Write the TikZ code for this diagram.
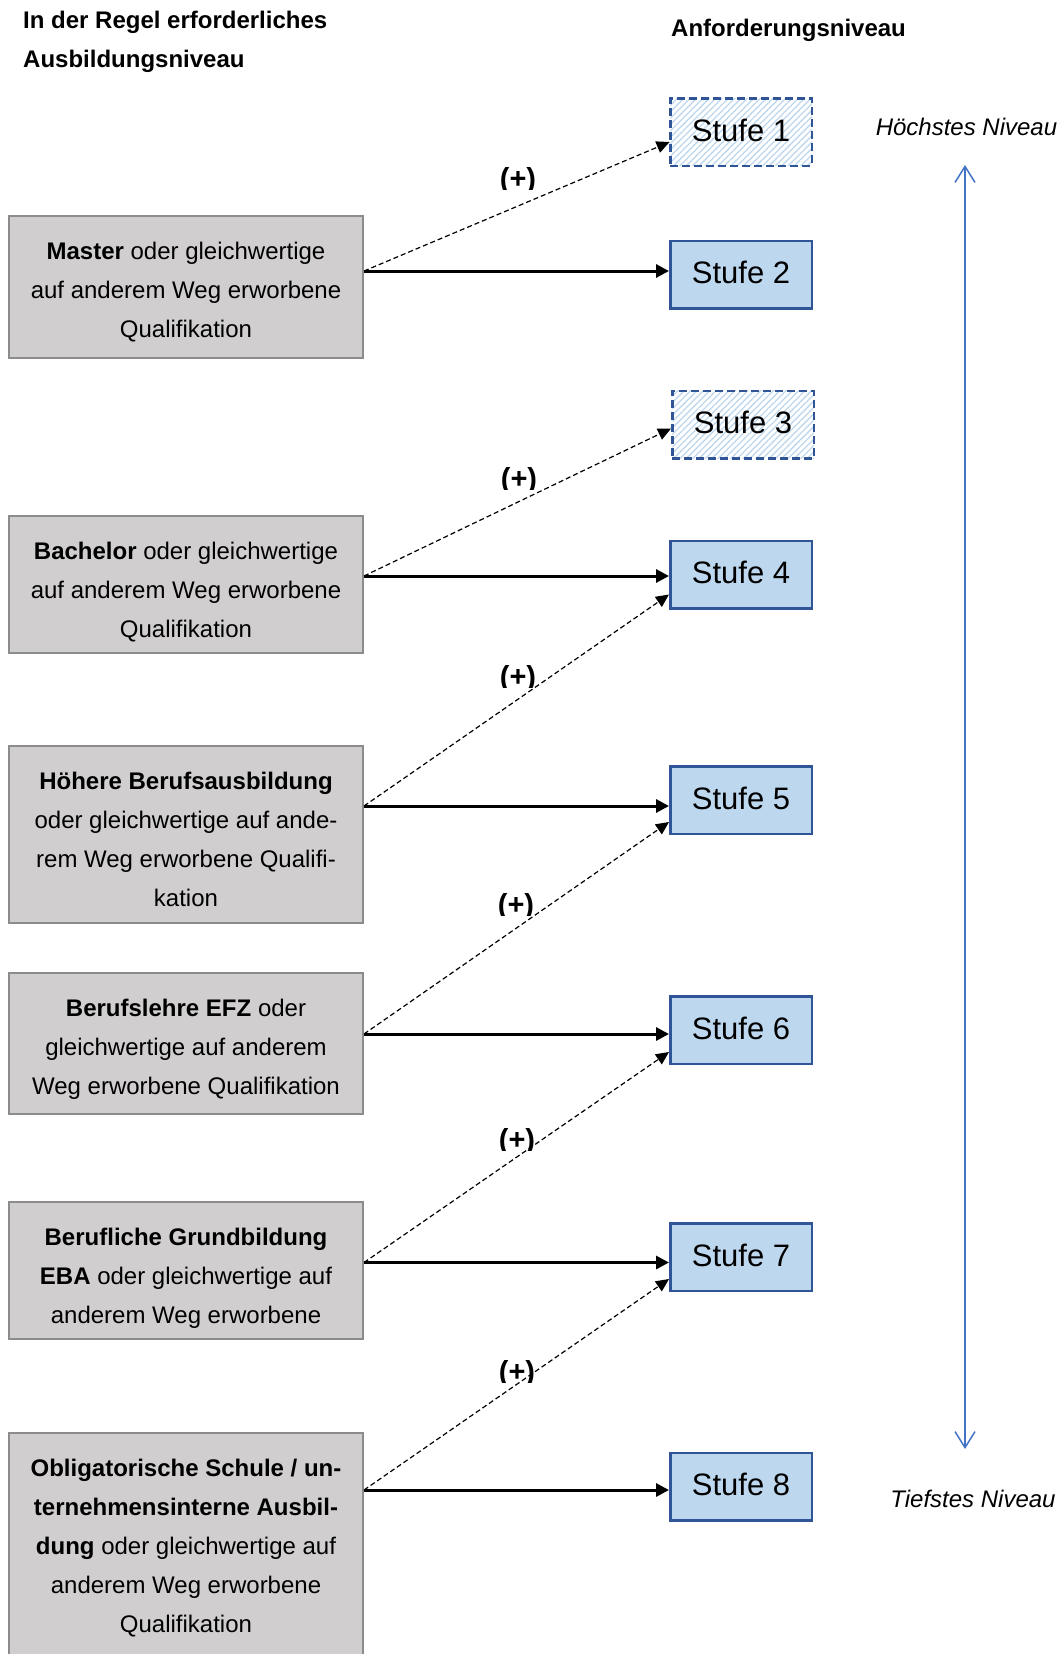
\documentclass[tikz,border=0pt]{standalone}
\usepackage{fontspec}
\setmainfont{Liberation Sans}
\usetikzlibrary{arrows.meta,patterns.meta}

\definecolor{gradefill}{HTML}{D0CECE}
\definecolor{gradeedge}{HTML}{8C8C8C}
\definecolor{levelfill}{HTML}{BDD7EE}
\definecolor{leveledge}{HTML}{2F5597}
\definecolor{rankline}{HTML}{4472C4}

\begin{document}
\begin{tikzpicture}[x=1pt,y=-1pt,
  grade/.style={draw=gradeedge,fill=gradefill,line width=2pt,minimum width=354pt,anchor=north,inner sep=0pt},
  gradetext/.style={anchor=north,align=center,inner sep=0pt,font=\fontsize{24}{39}\selectfont},
  level/.style={draw=leveledge,line width=2.5pt,minimum width=141.5pt,minimum height=67.5pt,inner sep=0pt,text height=23pt,text depth=5pt,font=\fontsize{31}{37}\selectfont},
  firm/.style={level,fill=levelfill},
  hatched/.style={level,dash pattern=on 8pt off 4pt,pattern={Lines[angle=45,distance=4.5pt,line width=1.3pt]},pattern color=levelfill},
  must/.style={line width=3pt,-{Triangle[length=13pt,width=13pt]}},
  may/.style={line width=1.2pt,dash pattern=on 5pt off 3pt,-{Triangle[length=13pt,width=12pt]}},
  gain/.style={anchor=base,inner sep=0pt,font=\bfseries\fontsize{29}{35}\selectfont},
  ends/.style={anchor=base,inner sep=0pt,font=\itshape\fontsize{24}{29}\selectfont},
  ranking/.style={draw=rankline,line width=1.5pt,{Straight Barb[length=16pt,width=20pt]}-{Straight Barb[length=16pt,width=20pt]}}]
\clip (0,0) rectangle (1061,1654);
\node[anchor=north west,align=left,inner sep=0pt,font=\bfseries\fontsize{24}{39}\selectfont] (head-left) at (23,1) {\strut In der Regel erforderliches\\Ausbildungsniveau};
\node[anchor=base west,inner sep=0pt,font=\bfseries\fontsize{24}{39}\selectfont] (head-right) at (671,37) {Anforderungsniveau};
\node[grade,minimum height=142pt] (grade-1) at (186,215) {};
\node[gradetext] (grade-text-1) at ([yshift=-16.7pt]grade-1.north) {\strut\textbf{Master} oder gleichwertige\\auf anderem Weg erworbene\\Qualifikation};
\node[grade,minimum height=137pt] (grade-2) at (186,515) {};
\node[gradetext] (grade-text-2) at ([yshift=-16.7pt]grade-2.north) {\strut\textbf{Bachelor} oder gleichwertige\\auf anderem Weg erworbene\\Qualifikation};
\node[grade,minimum height=177pt] (grade-3) at (186,745) {};
\node[gradetext] (grade-text-3) at ([yshift=-16.7pt]grade-3.north) {\strut\textbf{Höhere Berufsausbildung}\\oder gleichwertige auf ande-\\rem Weg erworbene Qualifi-\\kation};
\node[grade,minimum height=141pt] (grade-4) at (186,972) {};
\node[gradetext] (grade-text-4) at ([yshift=-16.7pt]grade-4.north) {\strut\textbf{Berufslehre EFZ} oder\\gleichwertige auf anderem\\Weg erworbene Qualifikation};
\node[grade,minimum height=136.5pt] (grade-5) at (186,1201) {};
\node[gradetext] (grade-text-5) at ([yshift=-16.7pt]grade-5.north) {\strut\textbf{Berufliche Grundbildung}\\\textbf{EBA} oder gleichwertige auf\\anderem Weg erworbene};
\node[grade,minimum height=260pt] (grade-6) at (186,1432) {};
\node[gradetext] (grade-text-6) at ([yshift=-16.7pt]grade-6.north) {\strut\textbf{Obligatorische Schule / un-}\\\textbf{ternehmensinterne Ausbil-}\\\textbf{dung} oder gleichwertige auf\\anderem Weg erworbene\\Qualifikation};
\node[hatched] (level-1) at (741,132) {Stufe 1};
\node[firm] (level-2) at (741,274.5) {Stufe 2};
\node[hatched] (level-3) at (743,424.5) {Stufe 3};
\node[firm] (level-4) at (741,574.5) {Stufe 4};
\node[firm] (level-5) at (741,800) {Stufe 5};
\node[firm] (level-6) at (741,1030) {Stufe 6};
\node[firm] (level-7) at (741,1257) {Stufe 7};
\node[firm] (level-8) at (741,1486.5) {Stufe 8};
\coordinate (start-1) at ([yshift=3.5pt]grade-1.east |- level-2.west);
\coordinate (start-2) at ([yshift=-1.5pt]grade-2.east |- level-4.west);
\coordinate (start-3) at ([yshift=-6pt]grade-3.east |- level-5.west);
\coordinate (start-4) at ([yshift=-4pt]grade-4.east |- level-6.west);
\coordinate (start-5) at ([yshift=-5.5pt]grade-5.east |- level-7.west);
\coordinate (start-6) at ([yshift=-3.5pt]grade-6.east |- level-8.west);
\draw[must] (start-1) -- (start-1 -| level-2.west);
\draw[must] (start-2) -- (start-2 -| level-4.west);
\draw[must] (start-3) -- (start-3 -| level-5.west);
\draw[must] (start-4) -- (start-4 -| level-6.west);
\draw[must] (start-5) -- (start-5 -| level-7.west);
\draw[must] (start-6) -- (start-6 -| level-8.west);
\draw[may] (start-1) -- ([yshift=-10pt]level-1.west);
\draw[may] (start-2) -- ([yshift=-4pt]level-3.west);
\draw[may] (start-3) -- ([yshift=-20pt]level-4.west);
\draw[may] (start-4) -- ([yshift=-22pt]level-5.west);
\draw[may] (start-5) -- ([yshift=-22pt]level-6.west);
\draw[may] (start-6) -- ([yshift=-22pt]level-7.west);
\begin{scope}
\clip (490,140) rectangle (550,189) (490,440) rectangle (550,489) (490,638) rectangle (550,687)
  (490,866) rectangle (550,915) (490,1101) rectangle (550,1150) (490,1333) rectangle (550,1382);
\node[gain] (gain-1) at (518,188) {(+)};
\node[gain] (gain-2) at (519,488) {(+)};
\node[gain] (gain-3) at (518,686) {(+)};
\node[gain] (gain-4) at (516,914) {(+)};
\node[gain] (gain-5) at (517,1149) {(+)};
\node[gain] (gain-6) at (517,1381) {(+)};
\end{scope}
\node[ends] (rank-high) at (966.5,135) {Höchstes Niveau};
\node[ends] (rank-low) at (973,1507) {Tiefstes Niveau};
\coordinate (rank-top) at (965,165);
\coordinate (rank-bottom) at (965,1449);
\draw[ranking] (rank-top) -- (rank-bottom);
\end{tikzpicture}
\end{document}
